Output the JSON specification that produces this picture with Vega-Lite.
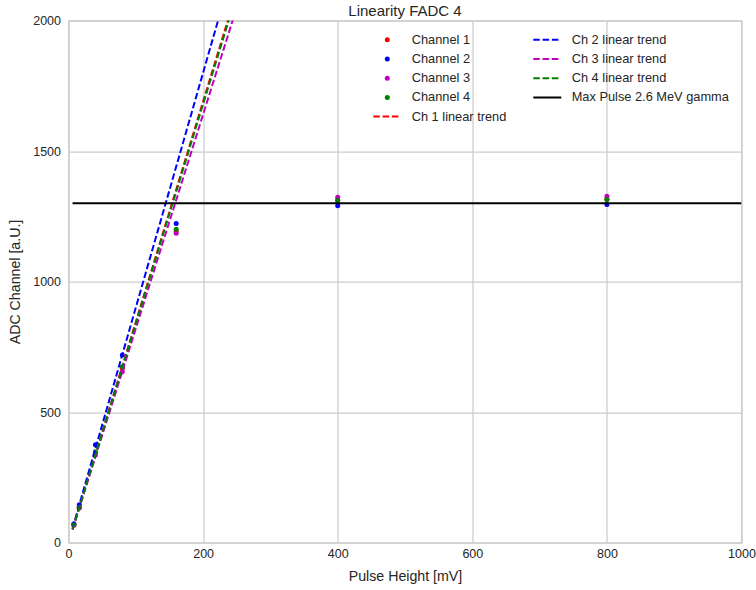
{
  "$schema": "https://vega.github.io/schema/vega-lite/v6.json",
  "width": 673,
  "height": 522,
  "autosize": {"type": "none"},
  "padding": {"left": 68.5, "top": 20.5, "right": 14.5, "bottom": 47.5},
  "background": "white",
  "title": {"text": "Linearity FADC 4", "font": "Liberation Sans", "fontSize": 15, "fontWeight": "normal", "color": "#262626", "offset": -4, "anchor": "middle"},
  "datasets": {
    "points": [
      {"x": 8, "y": 68, "series": "Channel 1"},
      {"x": 16, "y": 135, "series": "Channel 1"},
      {"x": 40, "y": 342, "series": "Channel 1"},
      {"x": 80, "y": 668, "series": "Channel 1"},
      {"x": 160, "y": 1193, "series": "Channel 1"},
      {"x": 400, "y": 1311, "series": "Channel 1"},
      {"x": 800, "y": 1315, "series": "Channel 1"},
      {"x": 8, "y": 72, "series": "Channel 2"},
      {"x": 16, "y": 145, "series": "Channel 2"},
      {"x": 40, "y": 375, "series": "Channel 2"},
      {"x": 80, "y": 718, "series": "Channel 2"},
      {"x": 160, "y": 1222, "series": "Channel 2"},
      {"x": 400, "y": 1290, "series": "Channel 2"},
      {"x": 800, "y": 1295, "series": "Channel 2"},
      {"x": 8, "y": 66, "series": "Channel 3"},
      {"x": 16, "y": 132, "series": "Channel 3"},
      {"x": 40, "y": 335, "series": "Channel 3"},
      {"x": 80, "y": 654, "series": "Channel 3"},
      {"x": 160, "y": 1185, "series": "Channel 3"},
      {"x": 400, "y": 1323, "series": "Channel 3"},
      {"x": 800, "y": 1327, "series": "Channel 3"},
      {"x": 8, "y": 68, "series": "Channel 4"},
      {"x": 16, "y": 136, "series": "Channel 4"},
      {"x": 40, "y": 348, "series": "Channel 4"},
      {"x": 80, "y": 673, "series": "Channel 4"},
      {"x": 160, "y": 1200, "series": "Channel 4"},
      {"x": 400, "y": 1310, "series": "Channel 4"},
      {"x": 800, "y": 1314, "series": "Channel 4"}
    ],
    "trends": [
      {"x": 6, "y": 50.7, "series": "Ch 1 linear trend"},
      {"x": 260, "y": 2197, "series": "Ch 1 linear trend"},
      {"x": 6, "y": 54, "series": "Ch 2 linear trend"},
      {"x": 260, "y": 2340, "series": "Ch 2 linear trend"},
      {"x": 6, "y": 49.2, "series": "Ch 3 linear trend"},
      {"x": 260, "y": 2132, "series": "Ch 3 linear trend"},
      {"x": 6, "y": 50.4, "series": "Ch 4 linear trend"},
      {"x": 260, "y": 2184, "series": "Ch 4 linear trend"}
    ],
    "hline": [
      {"x": 6, "y": 1300, "series": "Max Pulse 2.6 MeV gamma"},
      {"x": 1000, "y": 1300, "series": "Max Pulse 2.6 MeV gamma"}
    ]
  },
  "encoding": {
    "x": {
      "field": "x", "type": "quantitative",
      "scale": {"domain": [0, 1000], "nice": false, "zero": false},
      "axis": {"title": "Pulse Height [mV]", "values": [0, 200, 400, 600, 800, 1000], "format": "d", "labelPadding": 5, "titlePadding": 9, "labelFlush": false}
    },
    "y": {
      "field": "y", "type": "quantitative",
      "scale": {"domain": [0, 2000], "nice": false, "zero": false},
      "axis": {"title": "ADC Channel [a.U.]", "values": [0, 500, 1000, 1500, 2000], "format": "d", "labelPadding": 8, "titlePadding": 10, "labelFlush": false}
    },
    "color": {
      "field": "series", "type": "nominal",
      "scale": {
        "domain": ["Channel 1", "Channel 2", "Channel 3", "Channel 4", "Ch 1 linear trend", "Ch 2 linear trend", "Ch 3 linear trend", "Ch 4 linear trend", "Max Pulse 2.6 MeV gamma"],
        "range": ["#ff0000", "#0000ff", "#bf00bf", "#008000", "#ff0000", "#0000ff", "#bf00bf", "#008000", "#000000"]
      },
      "legend": {"title": null}
    },
    "strokeDash": {
      "field": "series", "type": "nominal",
      "scale": {
        "domain": ["Channel 1", "Channel 2", "Channel 3", "Channel 4", "Ch 1 linear trend", "Ch 2 linear trend", "Ch 3 linear trend", "Ch 4 linear trend", "Max Pulse 2.6 MeV gamma"],
        "range": [[1, 0], [1, 0], [1, 0], [1, 0], [6.5, 2.8], [6.5, 2.8], [6.5, 2.8], [6.5, 2.8], [1, 0]]
      },
      "legend": {"title": null}
    },
    "strokeWidth": {
      "field": "series", "type": "nominal",
      "scale": {
        "type": "ordinal",
        "domain": ["Channel 1", "Channel 2", "Channel 3", "Channel 4", "Ch 1 linear trend", "Ch 2 linear trend", "Ch 3 linear trend", "Ch 4 linear trend", "Max Pulse 2.6 MeV gamma"],
        "range": [0, 0, 0, 0, 2, 2, 2, 2, 2]
      },
      "legend": {"title": null}
    }
  },
  "layer": [
    {
      "data": {"name": "points"},
      "mark": {"type": "point", "filled": true, "opacity": 1},
      "encoding": {
        "shape": {
          "field": "series", "type": "nominal",
          "scale": {
            "domain": ["Channel 1", "Channel 2", "Channel 3", "Channel 4", "Ch 1 linear trend", "Ch 2 linear trend", "Ch 3 linear trend", "Ch 4 linear trend", "Max Pulse 2.6 MeV gamma"],
            "range": ["circle", "circle", "circle", "circle", "stroke", "stroke", "stroke", "stroke", "stroke"]
          },
          "legend": {"title": null}
        },
        "size": {
          "field": "series", "type": "nominal",
          "scale": {
            "type": "ordinal",
            "domain": ["Channel 1", "Channel 2", "Channel 3", "Channel 4", "Ch 1 linear trend", "Ch 2 linear trend", "Ch 3 linear trend", "Ch 4 linear trend", "Max Pulse 2.6 MeV gamma"],
            "range": [25, 25, 25, 25, 784, 784, 784, 784, 784]
          },
          "legend": {"title": null}
        }
      }
    },
    {
      "data": {"name": "trends"},
      "mark": {"type": "line", "clip": true}
    },
    {
      "data": {"name": "hline"},
      "mark": {"type": "line", "clip": true}
    }
  ],
  "config": {
    "view": {"stroke": "#cccccc", "strokeWidth": 1.25},
    "axis": {
      "domain": false, "ticks": false,
      "grid": true, "gridColor": "#cccccc", "gridWidth": 1.25, "gridOpacity": 1,
      "labelFont": "Liberation Sans", "labelFontSize": 12.5, "labelColor": "#262626",
      "titleFont": "Liberation Sans", "titleFontSize": 14.2, "titleFontWeight": "normal", "titleColor": "#262626"
    },
    "legend": {
      "orient": "none", "legendX": 303.8, "legendY": 12.3,
      "direction": "vertical", "columns": 2,
      "labelFont": "Liberation Sans", "labelFontSize": 12.8, "labelColor": "#262626", "labelOffset": 9.4, "labelLimit": 300,
      "columnPadding": 25, "rowPadding": 5.2, "clipHeight": 14, "padding": 0
    }
  }
}
